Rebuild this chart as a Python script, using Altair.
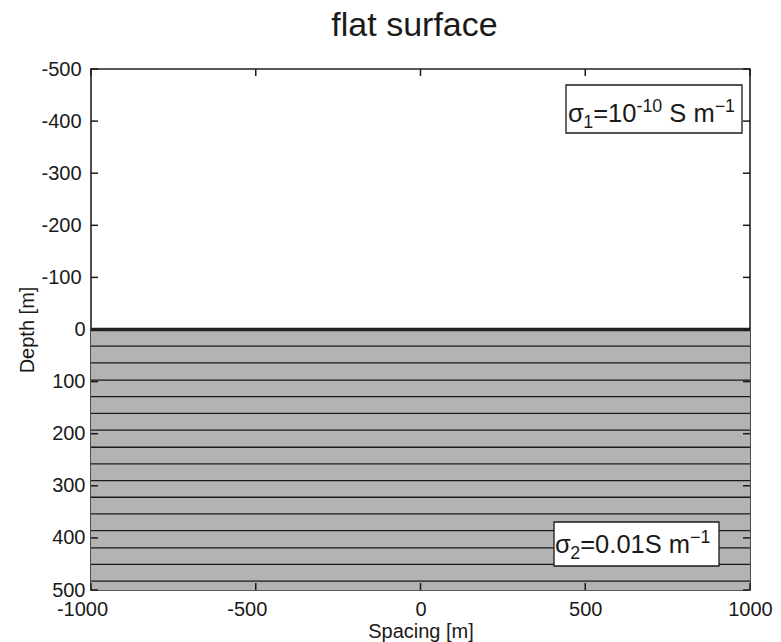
import altair as alt
import pandas as pd

# ---- data ----
x_ticks = [-1000, -500, 0, 500, 1000]
y_ticks = [-500, -400, -300, -200, -100, 0, 100, 200, 300, 400, 500]
surface_depth = [0]
bottom_depth = [500]
layer_lines = [32, 64, 97, 129, 161, 193, 226, 258, 290, 322, 354, 386, 419, 451, 483]
x_domain = [-1000, 1000]
y_domain = [-500, 500]
title_text = "flat surface"
# label pieces: (text, role, gap_before_in_em)
label_top = [("σ", "n", 0), ("1", "sub", 0), ("=10", "n", 0), ("-10", "sup", 0),
             ("S m", "n", 0.278), ("−1", "sup", 0)]
label_bottom = [("σ", "n", 0), ("2", "sub", 0), ("=0.01S m", "n", 0), ("−1", "sup", 0)]

FONT = "Liberation Sans"
W, H = 659, 521
INK = "#1a1a1a"
one = alt.Data(values=[{}])

# approximate glyph advance widths (em) for Liberation Sans, used to lay out label pieces
ADV = {"σ": 0.60, "=": 0.584, "-": 0.333, "−": 0.584, " ": 0.278, "S": 0.667,
       "m": 0.833, ".": 0.278}
for d in "0123456789":
    ADV[d] = 0.556


def piece_layers(pieces, x0, base, size):
    small = size * 0.7
    layers = []
    x = x0
    for txt, role, gap in pieces:
        fs = size if role == "n" else small
        dy = 0 if role == "n" else (6 if role == "sub" else -10)
        x += gap * size
        layers.append(
            alt.Chart(one).mark_text(
                text=txt, font=FONT, fontSize=fs, color=INK,
                align="left", baseline="alphabetic",
            ).encode(x=alt.value(x), y=alt.value(base + dy))
        )
        x += sum(ADV.get(c, 0.556) for c in txt) * fs
    return layers


xs = alt.Scale(domain=x_domain, nice=False, zero=False)
ys = alt.Scale(domain=y_domain, reverse=True, nice=False, zero=False)

half = pd.DataFrame({"v": surface_depth, "v2": bottom_depth})
lines_df = pd.DataFrame({"v": layer_lines})
surf_df = pd.DataFrame({"v": surface_depth})
yt_df = pd.DataFrame({"v": y_ticks})
xt_df = pd.DataFrame({"u": x_ticks})

y_axis = alt.Axis(
    title="Depth [m]", values=y_ticks, grid=False, ticks=False, tickSize=0,
    domain=False, labelFont=FONT, labelFontSize=20, labelColor=INK,
    labelExpr="'' + datum.value",
    labelAlign="right",
    labelPadding={"condition": {"test": "datum.value < 0", "value": 10}, "value": 6},
    titleFont=FONT, titleFontSize=20, titleFontWeight="normal", titleColor=INK,
    titleX=-64, titleY=H / 2, titleBaseline="middle", titleAngle=-90,
)
x_axis = alt.Axis(
    title="Spacing [m]", values=x_ticks, grid=False, ticks=False, tickSize=0,
    domain=False, labelFont=FONT, labelFontSize=20, labelColor=INK,
    labelExpr="'' + datum.value",
    labelOffset={"condition": {"test": "datum.value < 0", "value": -9}, "value": 0},
    labelBaseline="alphabetic", labelPadding=25, labelFlush=False,
    titleFont=FONT, titleFontSize=20, titleFontWeight="normal", titleColor=INK,
    titleY=47, titleBaseline="alphabetic",
)

Y = lambda: alt.Y("v:Q", scale=ys, axis=y_axis)
X = lambda: alt.X("u:Q", scale=xs, axis=x_axis)

ground = alt.Chart(half).mark_rect(color="#b3b3b3").encode(
    y=Y(), y2="v2:Q", x=alt.value(0), x2=alt.value(W),
)

mesh = alt.Chart(lines_df).mark_rule(color=INK, strokeWidth=1.3).encode(
    y=Y(), x=alt.value(0), x2=alt.value(W),
)

surface = alt.Chart(surf_df).mark_rule(color="#222222", strokeWidth=3.5).encode(
    y=Y(), x=alt.value(0), x2=alt.value(W),
)

tick_left = alt.Chart(yt_df).mark_rule(color=INK, strokeWidth=1.5).encode(
    y=Y(), x=alt.value(0), x2=alt.value(7))
tick_right = alt.Chart(yt_df).mark_rule(color=INK, strokeWidth=1.5).encode(
    y=Y(), x=alt.value(W), x2=alt.value(W - 7))
tick_bottom = alt.Chart(xt_df).mark_rule(color=INK, strokeWidth=1.5).encode(
    x=X(), y=alt.value(H), y2=alt.value(H - 7))
tick_top = alt.Chart(xt_df).mark_rule(color=INK, strokeWidth=1.5).encode(
    x=X(), y=alt.value(0), y2=alt.value(7))

box1 = alt.Chart(one).mark_rect(fill="white", stroke=INK, strokeWidth=1.3).encode(
    x=alt.value(475), x2=alt.value(651), y=alt.value(16), y2=alt.value(64))
box2 = alt.Chart(one).mark_rect(fill="white", stroke=INK, strokeWidth=1.3).encode(
    x=alt.value(463), x2=alt.value(628), y=alt.value(453), y2=alt.value(497))

text1 = piece_layers(label_top, 477, 53, 25.5)
text2 = piece_layers(label_bottom, 464, 484, 25.5)

title = alt.Chart(one).mark_text(
    text=title_text, font=FONT, fontSize=34, color=INK, align="center",
    baseline="alphabetic").encode(x=alt.value(W / 2 - 6), y=alt.value(-33))

chart = alt.layer(
    ground, mesh, surface, tick_left, tick_right, tick_bottom, tick_top,
    box1, box2, *text1, *text2, title,
).properties(
    width=W, height=H,
    autosize="none",
    background="white",
    padding={"left": 91, "top": 69, "right": 31, "bottom": 52},
).configure_view(stroke="#222222", strokeWidth=1.6)

chart.save("out.html", embed_options={"renderer": "svg", "actions": False})
